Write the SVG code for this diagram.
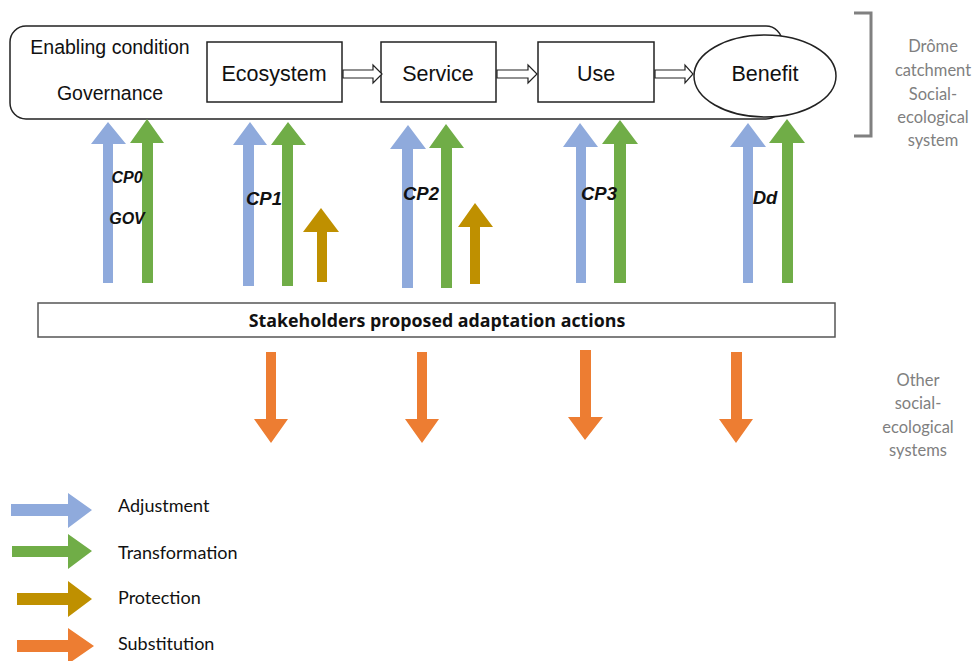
<svg xmlns="http://www.w3.org/2000/svg" width="972" height="661" viewBox="0 0 972 661">
<style>
.box{fill:#fff;stroke:#222;stroke-width:1.5}
.t{font-family:"Liberation Sans",Arial,sans-serif;font-size:21.5px;fill:#111;text-anchor:middle}
.lab{font-family:"Liberation Sans",Arial,sans-serif;font-weight:bold;font-style:italic;fill:#111;text-anchor:middle}
.side{font-family:"Lato","Open Sans",sans-serif;font-size:16.5px;fill:#7f7f7f;text-anchor:middle}
.leg{font-family:"Lato","Open Sans",sans-serif;font-size:18px;fill:#111}
.hollow{fill:#fff;stroke:#222;stroke-width:1.2}
.blue{fill:#8faadc}
.green{fill:#70ad47}
.gold{fill:#bf9000}
.orange{fill:#ed7d31}
</style>
<defs>
<filter id="soft" x="-10%" y="-10%" width="120%" height="120%"><feGaussianBlur stdDeviation="0.5"/></filter>
</defs>
<rect width="972" height="661" fill="#fff"/>

<g id="ses-frame">
<rect class="box" x="10" y="26" width="772" height="93" rx="16" ry="16"/>
<text class="t" x="110" y="54" style="font-size:19.5px">Enabling condition</text>
<text class="t" x="110" y="100" style="font-size:19.5px">Governance</text>
</g>

<g id="ecosystem"><rect class="box" x="207" y="42" width="135" height="60"/><text class="t" x="274" y="81">Ecosystem</text></g>
<g id="service"><rect class="box" x="381" y="42" width="115" height="60"/><text class="t" x="438" y="81">Service</text></g>
<g id="use"><rect class="box" x="538" y="42" width="116" height="60"/><text class="t" x="596" y="81">Use</text></g>
<g id="benefit"><ellipse class="box" cx="765" cy="76" rx="71" ry="41"/><text class="t" x="765" y="81">Benefit</text></g>

<g id="connectors">
<path class="hollow" d="M343,70 H373 V65 L382,74 L373,83 V78 H343 Z"/>
<path class="hollow" d="M497,70 H528 V65 L537,74 L528,83 V78 H497 Z"/>
<path class="hollow" d="M655,70 H685 V65 L693,74 L685,83 V78 H655 Z"/>
</g>

<g id="bracket">
<path d="M854,13 H871 V136 H854" fill="none" stroke="#808080" stroke-width="3"/>
<text class="side" x="933" y="52">Drôme</text>
<text class="side" x="933" y="76">catchment</text>
<text class="side" x="933" y="100">Social-</text>
<text class="side" x="933" y="123">ecological</text>
<text class="side" x="933" y="146">system</text>
</g>

<g id="up-arrows" filter="url(#soft)">
<path class="blue" d="M103,283 V144 H91 L108,122 L126,144 H113 V283 Z"/>
<path class="green" d="M142,283 V143 H130 L147,119 L164,143 H153 V283 Z"/>
<path class="blue" d="M243,286 V145 H233 L250,122 L267,145 H254 V286 Z"/>
<path class="green" d="M282,286 V145 H271 L288,122 L306,145 H293 V286 Z"/>
<path class="gold" d="M317,282 V232 H303 L321,208 L339,232 H327 V282 Z"/>
<path class="blue" d="M402,288 V149 H390 L408,125 L426,149 H413 V288 Z"/>
<path class="green" d="M441,288 V148 H429 L446,124 L464,148 H452 V288 Z"/>
<path class="gold" d="M470,284 V227 H458 L475,203 L493,227 H480 V284 Z"/>
<path class="blue" d="M576,283 V147 H563 L580,123 L598,147 H586 V283 Z"/>
<path class="green" d="M614,283 V144 H602 L620,120 L638,144 H626 V283 Z"/>
<path class="blue" d="M743,283 V147 H730 L748,123 L766,147 H753 V283 Z"/>
<path class="green" d="M782,283 V143 H769 L787,119 L805,143 H793 V283 Z"/>
</g>

<g id="labels">
<text class="lab" x="127" y="183" style="font-size:16px">CP0</text>
<text class="lab" x="127" y="224" style="font-size:16px">GOV</text>
<text class="lab" x="264" y="205" style="font-size:18.5px">CP1</text>
<text class="lab" x="421" y="200" style="font-size:18.5px">CP2</text>
<text class="lab" x="599" y="200" style="font-size:18.5px">CP3</text>
<text class="lab" x="765" y="204" style="font-size:18.5px">Dd</text>
</g>

<g id="stakeholders">
<rect x="38" y="303" width="797" height="34" fill="#fff" stroke="#555" stroke-width="1.5"/>
<text x="437" y="327" text-anchor="middle" style="font-family:'Open Sans','Lato',sans-serif;font-weight:bold;font-size:17.8px" fill="#111">Stakeholders proposed adaptation actions</text>
</g>

<g id="down-arrows" filter="url(#soft)">
<path class="orange" d="M266,352 H276 V419 H288 L271,443 L254,419 H266 Z"/>
<path class="orange" d="M417,352 H427 V419 H439 L422,443 L405,419 H417 Z"/>
<path class="orange" d="M580,350 H591 V417 H603 L585,440 L568,417 H580 Z"/>
<path class="orange" d="M731,352 H742 V419 H753 L736,443 L719,419 H731 Z"/>
</g>

<g id="other-ses">
<text class="side" x="918" y="386">Other</text>
<text class="side" x="918" y="409">social-</text>
<text class="side" x="918" y="433">ecological</text>
<text class="side" x="918" y="456">systems</text>
</g>

<g id="legend">
<g filter="url(#soft)">
<path class="blue" d="M11,504 H68 V493 L92,510 L68,528 V516 H11 Z"/>
<path class="green" d="M12,546 H68 V534 L92,551 L68,569 V557 H12 Z"/>
<path class="gold" d="M17,593 H68 V581 L92,599 L68,617 V605 H17 Z"/>
<path class="orange" d="M17,640 H68 V628 L94,646 L68,664 V652 H17 Z"/>
</g>
<text class="leg" x="118" y="512">Adjustment</text>
<text class="leg" x="118" y="559">Transformation</text>
<text class="leg" x="118" y="604">Protection</text>
<text class="leg" x="118" y="650">Substitution</text>
</g>
</svg>
